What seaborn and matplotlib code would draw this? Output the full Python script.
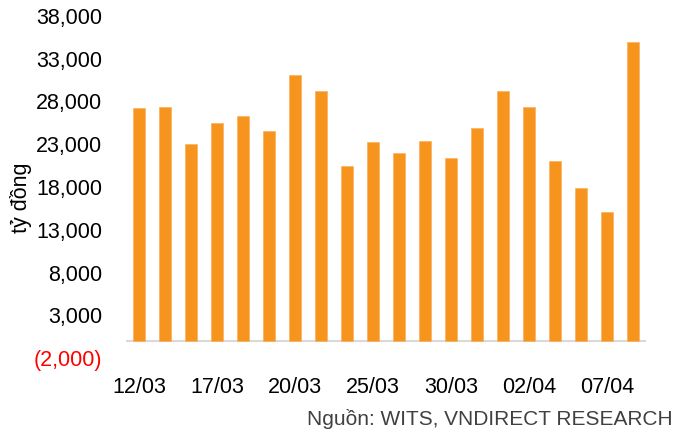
import matplotlib
matplotlib.use("Agg")
import matplotlib.pyplot as plt
import seaborn as sns
import pandas as pd

# Data
dates = ["12/03", "13/03", "16/03", "17/03", "18/03", "19/03", "20/03", "23/03",
         "24/03", "25/03", "26/03", "27/03", "30/03", "31/03", "01/04", "02/04",
         "03/04", "06/04", "07/04", "08/04"]
values = [27200, 27390, 23040, 25490, 26270, 24560, 31080, 29250,
          20480, 23240, 21990, 23390, 21410, 24870, 29220, 27320,
          21060, 17830, 15120, 34930]
ytick_values = [-2000, 3000, 8000, 13000, 18000, 23000, 28000, 33000, 38000]
ytick_labels = ["(2,000)", "3,000", "8,000", "13,000", "18,000", "23,000",
                "28,000", "33,000", "38,000"]
shown_dates = ["12/03", "17/03", "20/03", "25/03", "30/03", "02/04", "07/04"]
ylabel = "tỷ đồng"
source = "Nguồn: WITS, VNDIRECT RESEARCH"

sns.set_style("white")
plt.rcParams['font.family'] = ['Liberation Sans', 'DejaVu Sans']

df = pd.DataFrame({"date": dates, "value": values})

fig = plt.figure(figsize=(6.75, 4.34), dpi=100)
ax = fig.add_axes([126/675, 1-358/434, 520/675, (358-16)/434])

sns.barplot(data=df, x="date", y="value", color="#F7941D", saturation=1,
            width=0.47, ax=ax, edgecolor="#FAB25E", linewidth=0.5)

ax.set_xlim(-0.5, len(dates) - 0.5)
ax.set_ylim(-2000, 38000)
for s in ax.spines.values():
    s.set_visible(False)
ax.axhline(0, color="#D9D9D9", linewidth=1.5, zorder=0.5)

ax.set_yticks(ytick_values)
ax.set_yticklabels(ytick_labels, fontsize=15.5, color="#000000")
ax.get_yticklabels()[0].set_color("#FF0000")
ax.tick_params(axis="y", length=0, pad=17)

pos = [dates.index(d) for d in shown_dates]
ax.set_xticks(pos)
ax.set_xticklabels(shown_dates, fontsize=15.5, color="#000000")
ax.tick_params(axis="x", length=0, pad=14)

ax.set_xlabel("")
ax.set_ylabel(ylabel, fontsize=15.5, color="#000000")
ax.yaxis.set_label_coords(-0.18, 0.47)

fig.text(673/675, 1-419/434, source, ha="right", va="center", fontsize=15,
         color="#404040")

fig.savefig("out.png", dpi=100)
